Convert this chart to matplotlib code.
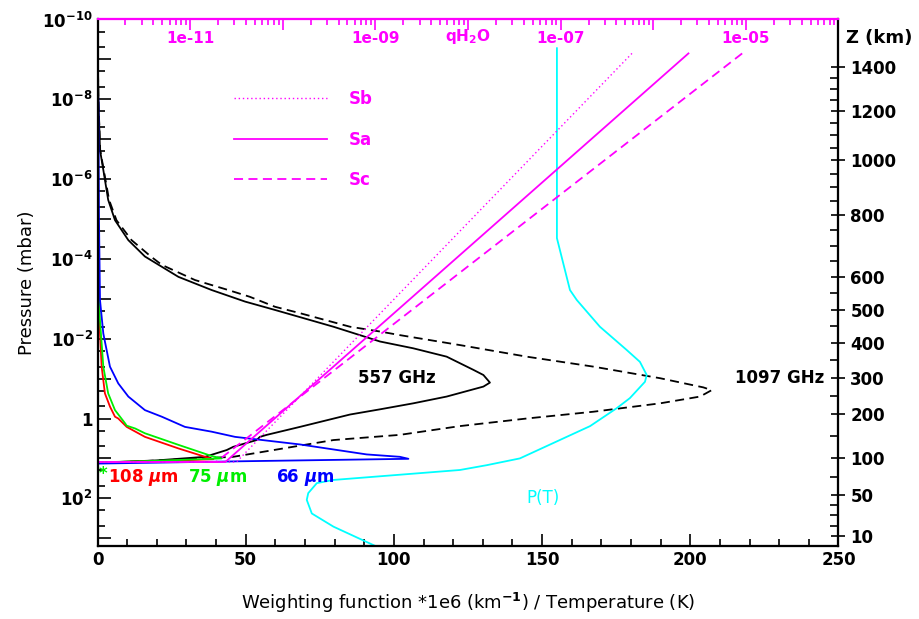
import numpy as np
import matplotlib
matplotlib.use('Agg')
import matplotlib.pyplot as plt
from matplotlib.ticker import FixedLocator, FixedFormatter, NullFormatter, LogLocator

plt.rcParams['font.family'] = 'DejaVu Sans'
plt.rcParams['font.weight'] = 'bold'

# --- weighting functions (x = WF*1e6/T, given as log10 P in mbar) ---
wf557_x = [0.0, 0.3, 0.84, 1.96, 3.6, 5.9, 10.4, 16.0, 27.3, 38.5, 49.8, 59.9, 79.6, 95.3,
           106.5, 117.8, 126.8, 130.2, 132.4, 130.2, 117.8, 106.5, 95.3, 85.2, 68.3, 57.1,
           54.8, 53.7, 45.8, 43.6, 36.3, 20.0, 0.0]
wf557_lp = [-9.75, -8.0, -6.73, -6.23, -5.48, -4.97, -4.47, -4.06, -3.55, -3.22, -2.93, -2.72,
            -2.30, -1.93, -1.76, -1.55, -1.22, -1.09, -0.90, -0.80, -0.55, -0.38, -0.23, -0.10,
            0.21, 0.41, 0.46, 0.54, 0.71, 0.79, 0.96, 1.05, 1.11]

wf1097_x = [0.0, 0.3, 0.9, 2.1, 3.9, 6.4, 11.5, 18.0, 21.7, 32.9, 44.1, 51.4, 59.9, 68.3, 85.2,
            95.3, 102.0, 122.3, 144.8, 167.3, 189.8, 204.4, 207.2, 203.3, 189.8, 167.3, 144.8,
            122.3, 102.0, 79.6, 68.3, 45.8, 12.1, 0.0]
wf1097_lp = [-9.75, -8.0, -6.73, -6.23, -5.48, -4.97, -4.47, -4.06, -3.85, -3.47, -3.22, -3.05,
             -2.80, -2.64, -2.30, -2.18, -2.09, -1.84, -1.55, -1.30, -1.01, -0.78, -0.71, -0.55,
             -0.38, -0.17, 0.0, 0.19, 0.41, 0.54, 0.68, 0.96, 1.08, 1.11]

wf66_x = [0.0, 0.3, 0.5, 0.84, 1.96, 4.2, 7.0, 10.4, 16.0, 21.7, 29.5, 38.5, 46.4, 68.3, 90.8,
          102.0, 104.9, 50.0, 0.0]
wf66_lp = [-8.3, -7.98, -5.0, -2.97, -2.13, -1.30, -0.88, -0.55, -0.21, -0.045, 0.21, 0.33,
           0.46, 0.65, 0.90, 0.96, 1.01, 1.07, 1.13]

wf75_x = [0.0, 0.8, 1.96, 3.6, 5.9, 9.3, 9.85, 12.7, 16.0, 27.3, 38.5, 41.9, 20.0, 0.0]
wf75_lp = [-4.0, -2.5, -1.30, -0.63, -0.21, 0.12, 0.18, 0.25, 0.37, 0.66, 0.94, 1.0, 1.06, 1.10]

wf108_x = [0.0, 0.84, 1.4, 2.5, 4.2, 5.9, 7.0, 9.85, 16.0, 27.3, 36.3, 39.1, 20.0, 0.0]
wf108_lp = [-3.3, -2.13, -1.30, -0.63, -0.30, -0.045, 0.0, 0.21, 0.46, 0.75, 0.96, 1.02, 1.07,
            1.10]

# --- temperature profile P(T) ---
temp_k = [155.0, 155.0, 159.4, 161.7, 169.5, 178.5, 183.0, 185.3, 184.7, 179.6, 175.2, 166.2,
          142.5, 131.3, 122.3, 79.6, 74.0, 71.1, 70.6, 72.3, 79.6, 93.6]
temp_lp = [-9.28, -4.52, -3.22, -2.97, -2.30, -1.72, -1.42, -1.09, -0.92, -0.51, -0.26, 0.19,
           1.0, 1.17, 1.29, 1.54, 1.62, 1.87, 2.04, 2.38, 2.71, 3.19]

# --- water mixing ratio profiles (log10 q vs log10 P) ---
sa_lq = [-5.62, -10.62, -13.0]
sa_lp = [-9.15, 1.09, 1.09]
sb_lq = [-6.23, -10.50, -13.0]
sb_lp = [-9.15, 1.09, 1.09]
sc_lq = [-5.04, -10.72, -13.0]
sc_lp = [-9.15, 1.09, 1.09]

# --- altitude scale ---
z_km = [1400, 1200, 1000, 800, 600, 500, 400, 300, 200, 100, 50, 10]
z_lp = [-8.81, -7.71, -6.48, -5.10, -3.55, -2.72, -1.90, -1.01, -0.105, 1.00, 1.92, 2.94]

P = lambda lp: 10.0 ** np.array(lp)
MAG = '#ff00ff'
CYA = '#00ffff'
GRN = '#00ee00'

fig = plt.figure(figsize=(9.19, 6.19), dpi=100)
ax = fig.add_axes([0.1061, 0.1184, 0.8063, 0.8501])
ymin, ymax = 10 ** 3.188, 1e-10

ax.plot(wf557_x, P(wf557_lp), color='black', lw=1.3)
ax.plot(wf1097_x, P(wf1097_lp), color='black', lw=1.3, ls=(0, (5, 3)))
ax.plot(wf108_x, P(wf108_lp), color='red', lw=1.3)
ax.plot(wf75_x, P(wf75_lp), color=GRN, lw=1.3)
ax.plot(wf66_x, P(wf66_lp), color='blue', lw=1.3)
ax.plot(temp_k, P(temp_lp), color=CYA, lw=1.3)

ax.set_yscale('log')
ax.set_xlim(0, 250)
ax.set_ylim(ymin, ymax)

ax.text(101, 10 ** -1.02, '557 GHz', ha='center', va='center', fontsize=12)
ax.text(230, 10 ** -1.02, '1097 GHz', ha='center', va='center', fontsize=12)
ax.text(0.3, 10 ** 1.39, '*', color=GRN, ha='left', va='center', fontsize=12)
ax.text(3.6, 10 ** 1.47, r'108 $\mu$m', color='red', ha='left', va='center', fontsize=12)
ax.text(30.5, 10 ** 1.47, r'75 $\mu$m', color=GRN, ha='left', va='center', fontsize=12)
ax.text(60.2, 10 ** 1.47, r'66 $\mu$m', color='blue', ha='left', va='center', fontsize=12)
ax.text(150.3, 10 ** 2.0, 'P(T)', color=CYA, ha='center', va='center', fontsize=12,
        fontweight='normal')

# left / bottom ticks
ax.xaxis.set_major_locator(FixedLocator(np.arange(0, 251, 50)))
ax.xaxis.set_minor_locator(FixedLocator(np.arange(0, 251, 10)))
ydec = np.arange(-10, 4)
ax.yaxis.set_major_locator(FixedLocator(10.0 ** ydec))
ylabs = []
for d in ydec:
    if d % 2:
        ylabs.append('')
    elif d == 0:
        ylabs.append('1')
    else:
        ylabs.append(r'$\mathbf{10^{%d}}$' % d)
ax.yaxis.set_major_formatter(FixedFormatter(ylabs))
ax.yaxis.set_minor_locator(LogLocator(base=10, subs=(2.0, 5.0), numticks=50))
ax.yaxis.set_minor_formatter(NullFormatter())
ax.tick_params(which='both', direction='in', top=False, right=False, labelsize=12)
ax.tick_params(which='major', length=9, width=1.2)
ax.tick_params(which='minor', length=5, width=1.2)
ax.set_xlabel(r'Weighting function *1e6 (km$^{\mathbf{-1}}$) / Temperature (K)', fontsize=13,
              labelpad=16)
ax.set_ylabel('Pressure (mbar)', fontsize=13, labelpad=4)

# top axis: water mixing ratio
axq = ax.twiny()
axq.plot(P(sb_lq), P(sb_lp), color=MAG, lw=1.0, ls=(0, (1, 2)), label='Sb')
axq.plot(P(sa_lq), P(sa_lp), color=MAG, lw=1.3, label='Sa')
axq.plot(P(sc_lq), P(sc_lp), color=MAG, lw=1.3, ls=(0, (5, 3)), label='Sc')
axq.set_xscale('log')
axq.set_xlim(1e-12, 1e-4)
axq.set_ylim(ymin, ymax)
qdec = np.arange(-12, -3)
qlabs = ['', '1e-11', '', '1e-09', r'qH$_\mathbf{2}$O', '1e-07', '', '1e-05', '']
axq.xaxis.set_major_locator(FixedLocator(10.0 ** qdec))
axq.xaxis.set_major_formatter(FixedFormatter(qlabs))
axq.xaxis.set_minor_locator(LogLocator(base=10, subs=np.arange(2, 10), numticks=50))
axq.xaxis.set_minor_formatter(NullFormatter())
axq.tick_params(axis='x', which='both', direction='in', colors=MAG, labelsize=11, pad=-19)
axq.tick_params(axis='x', which='major', length=8, width=1.2)
axq.tick_params(axis='x', which='minor', length=4, width=1.2)
leg = axq.legend(loc='upper left', bbox_to_anchor=(0.184, 0.866), frameon=False, fontsize=12,
                 handlelength=5.6, handletextpad=1.3, labelspacing=1.35, borderpad=0,
                 borderaxespad=0, labelcolor=MAG)

# right axis: altitude
axz = ax.twinx()
axz.set_yscale('log')
axz.set_ylim(ymin, ymax)
axz.yaxis.set_major_locator(FixedLocator(P(z_lp)))
axz.yaxis.set_major_formatter(FixedFormatter([str(z) for z in z_km]))
z_minor = [20, 30, 40, 75, 150, 250, 350, 450, 550, 650, 700, 750, 850, 900, 950,
           1050, 1100, 1150, 1250, 1300, 1350]
axz.yaxis.set_minor_locator(FixedLocator(P(np.interp(z_minor, z_km[::-1], z_lp[::-1]))))
axz.yaxis.set_minor_formatter(NullFormatter())
axz.tick_params(axis='y', which='major', direction='inout', length=10, width=1.2, labelsize=12)
axz.tick_params(axis='y', which='minor', direction='in', length=6, width=1.2)
axz.text(1.01, 0.965, 'Z (km)', transform=axz.transAxes, fontsize=13, ha='left', va='center')

for a in (ax, axq, axz):
    for s in a.spines.values():
        s.set_linewidth(1.5)
    a.spines['top'].set_color(MAG)

fig.savefig('out.png', dpi=100)
